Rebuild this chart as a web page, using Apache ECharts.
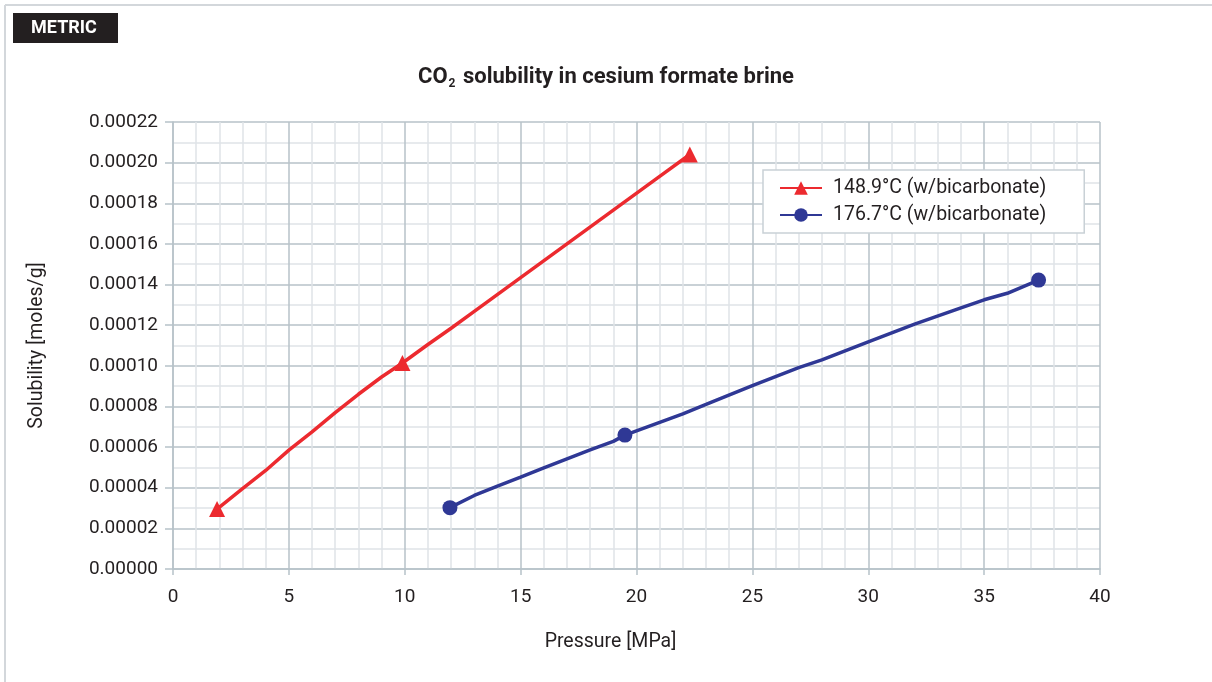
<!DOCTYPE html>
<html>
<head>
<meta charset="utf-8">
<script src="https://cdn.jsdelivr.net/npm/echarts@6/dist/echarts.min.js"></script>
<style>
html,body{margin:0;padding:0;background:#fff;}
#chart{width:1212px;height:682px;}
</style>
</head>
<body>
<div id="chart"></div>
<script>
// ---- data ----
const seriesNames = ['148.9°C (w/bicarbonate)', '176.7°C (w/bicarbonate)'];
const redX = [1.9, 3, 4, 5, 6, 7, 8, 9, 9.9, 11, 12, 13, 15, 17, 19, 21, 22.3];
const redY = [0.0000295, 0.0000395, 0.0000485, 0.0000585, 0.0000675, 0.000077, 0.000086, 0.0000945, 0.0001014, 0.0001105, 0.0001185, 0.0001268, 0.0001434, 0.00016, 0.0001766, 0.0001932, 0.0002040];
const redMarkers = [1.9, 9.9, 22.3];
const blueX = [11.95, 13, 14, 15, 16, 17, 18, 19, 19.5, 21, 22, 23, 25, 27, 28, 30, 32, 34, 35, 36, 37.35];
const blueY = [0.0000302, 0.0000362, 0.0000408, 0.0000452, 0.0000498, 0.0000542, 0.0000586, 0.0000628, 0.0000659, 0.0000722, 0.0000764, 0.000081, 0.0000903, 0.0000991, 0.0001029, 0.0001118, 0.0001205, 0.0001285, 0.0001325, 0.0001357, 0.0001422];
const blueMarkers = [11.95, 19.5, 37.35];
const xTicks = {min: 0, max: 40, interval: 5};
const yTicks = {min: 0, max: 0.00022, interval: 0.00002};

function build(xs, ys, marks, size) {
  return xs.map((x, i) => ({value: [x, ys[i]], symbolSize: marks.indexOf(x) >= 0 ? size : 0}));
}

const majorColor = '#b7c2c9';
const minorColor = '#dfe4e7';
const font = 'Roboto, "Open Sans", sans-serif';
const textColor = '#231f20';

const chart = echarts.init(document.getElementById('chart'), null, {renderer: 'canvas'});
chart.setOption({
  animation: false,
  backgroundColor: '#fff',
  graphic: [
    {type: 'line', shape: {x1: 5, y1: 5, x2: 1212, y2: 5}, style: {stroke: '#d3d7db', lineWidth: 2}},
    {type: 'line', shape: {x1: 5, y1: 5, x2: 5, y2: 682}, style: {stroke: '#d3d7db', lineWidth: 2}},
    {type: 'rect', shape: {x: 13, y: 13, width: 105, height: 30}, style: {fill: '#231f20'}},
    {type: 'text', x: 64, y: 28.5, style: {text: 'METRIC', fill: '#fff', font: 'bold 18px ' + font, textAlign: 'center', textVerticalAlign: 'middle'}}
  ],
  title: {
    text: 'CO{sub|2} solubility in cesium formate brine',
    left: 'center',
    top: 59,
    textStyle: {
      fontFamily: font, fontWeight: 'bold', fontSize: 22, color: textColor,
      rich: {sub: {fontFamily: font, fontWeight: 'bold', fontSize: 12, color: textColor, verticalAlign: 'bottom', padding: [14, 2, 0, 1]}}
    }
  },
  legend: {
    orient: 'vertical',
    left: 763, top: 170,
    padding: [8, 38, 8, 16],
    itemGap: 7,
    itemWidth: 42, itemHeight: 17,
    backgroundColor: '#fff',
    borderColor: '#c9d1d6', borderWidth: 1.5,
    textStyle: {fontFamily: font, fontSize: 19.5, color: textColor, padding: [0, 0, 0, 6]},
    data: seriesNames
  },
  grid: {left: 173, right: 112, top: 122, bottom: 113, containLabel: false},
  xAxis: {
    type: 'value',
    min: xTicks.min, max: xTicks.max, interval: xTicks.interval,
    name: 'Pressure [MPa]', nameLocation: 'middle', nameGap: 63,
    nameTextStyle: {fontFamily: font, fontSize: 19.5, color: textColor, padding: [0, 52, 0, 0]},
    axisLine: {show: true, lineStyle: {color: majorColor, width: 1.5}},
    axisTick: {show: true, length: 6, lineStyle: {color: majorColor, width: 1.5}},
    axisLabel: {fontFamily: font, fontSize: 19, color: textColor, margin: 19},
    splitLine: {show: true, lineStyle: {color: majorColor, width: 1.5}},
    minorTick: {show: false, splitNumber: 5},
    minorSplitLine: {show: true, lineStyle: {color: minorColor, width: 1.5}}
  },
  yAxis: {
    type: 'value',
    min: yTicks.min, max: yTicks.max, interval: yTicks.interval,
    name: 'Solubility [moles/g]', nameLocation: 'middle', nameGap: 126,
    nameTextStyle: {fontFamily: font, fontSize: 19.5, color: textColor},
    axisLine: {show: true, lineStyle: {color: majorColor, width: 1.5}},
    axisTick: {show: true, length: 8, lineStyle: {color: majorColor, width: 1.5}},
    axisLabel: {fontFamily: font, fontSize: 19, color: textColor, margin: 15, formatter: v => v.toFixed(5)},
    splitLine: {show: true, lineStyle: {color: majorColor, width: 1.5}},
    minorTick: {show: false, splitNumber: 2},
    minorSplitLine: {show: true, lineStyle: {color: minorColor, width: 1.5}}
  },
  series: [
    {
      name: seriesNames[0], type: 'line',
      symbol: 'triangle', symbolSize: 16, showAllSymbol: true,
      color: '#ec2a2f',
      lineStyle: {width: 3.5, color: '#ec2a2f'},
      itemStyle: {color: '#ec2a2f'},
      data: build(redX, redY, redMarkers, 16)
    },
    {
      name: seriesNames[1], type: 'line',
      symbol: 'circle', symbolSize: 15, showAllSymbol: true,
      color: '#2f3895',
      lineStyle: {width: 3.5, color: '#2f3895'},
      itemStyle: {color: '#2f3895'},
      data: build(blueX, blueY, blueMarkers, 15)
    }
  ]
});
</script>
</body>
</html>
